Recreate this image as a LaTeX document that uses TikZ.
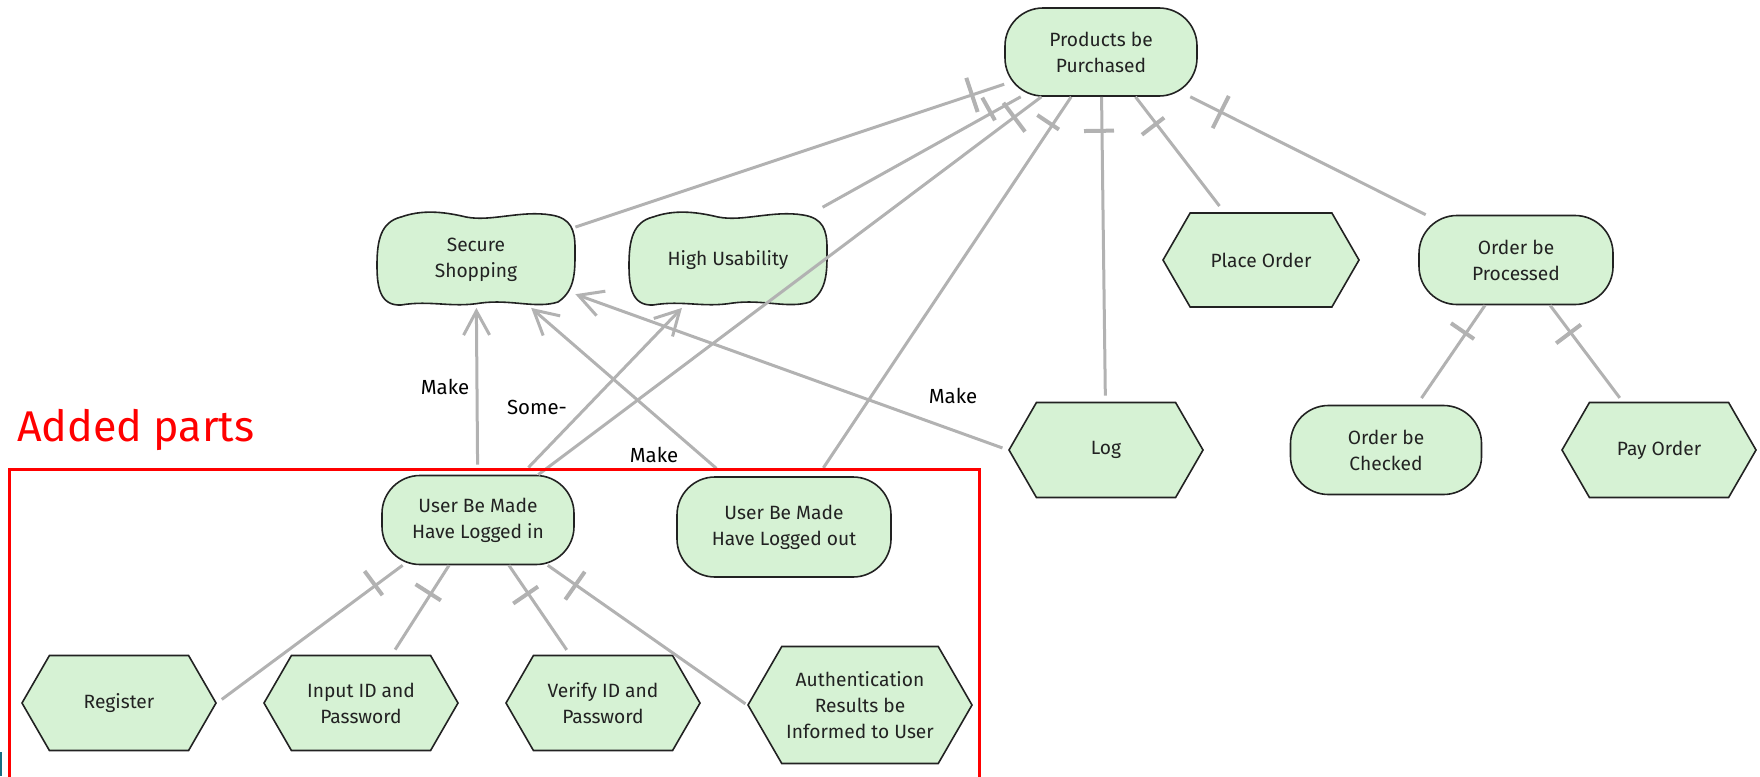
\documentclass[tikz,border=0pt]{standalone}
\usepackage{fontspec}
\setmainfont{Fira Sans}
\usetikzlibrary{shapes.symbols,arrows.meta,decorations.markings,backgrounds}

\definecolor{goalfill}{RGB}{214,242,212}
\definecolor{linkgray}{RGB}{178,178,178}
\definecolor{outline}{RGB}{34,34,34}
\definecolor{framered}{RGB}{255,0,0}
\definecolor{edgeteal}{RGB}{20,110,130}

% wavy outline of a softgoal, centred on a node
\newcommand\softoutline[1]{%
  \draw[draw=outline, line width=0.8pt, fill=goalfill, shift={(#1.center)}]
    (-75,-43) .. controls (-55,-50) and (-35,-49) .. (-10,-43)
    .. controls (15,-38) and (45,-50) .. (75,-45)
    .. controls (95,-42) and (99,-30) .. (99,-12)
    .. controls (99,10) and (100,30) .. (82,42)
    .. controls (60,49) and (35,39) .. (5,43)
    .. controls (-25,48) and (-45,40) .. (-75,45)
    .. controls (-97,46) and (-99,25) .. (-99,5)
    .. controls (-99,-20) and (-95,-38) .. (-75,-43) -- cycle;}

\begin{document}
\begin{tikzpicture}[x=0.5pt,y=-0.5pt,
  every node/.style={font=\fontsize{9.6}{13}\selectfont, text=outline, align=center},
  goal/.style n args={2}{rectangle, draw=outline, line width=0.8pt, fill=goalfill,
    rounded corners=19pt, inner sep=0pt, minimum width=#1, minimum height=#2},
  task/.style n args={2}{signal, signal to=west and east, signal pointer angle=120,
    draw=outline, line width=0.8pt, fill=goalfill, inner sep=0pt,
    minimum width=#1, minimum height=#2},
  soft/.style n args={2}{rectangle, inner sep=0pt, minimum width=#1, minimum height=#2},
  link/.style={draw=linkgray, line width=1.5pt},
  decomp/.style={link, postaction={decorate, decoration={markings,
    mark=at position 17pt with {\draw[linkgray, line width=2pt] (0pt,-9pt) -- (0pt,9pt);}}}},
  contrib/.style={link, -{Straight Barb[length=12pt, width=13pt, line width=1.5pt]}},
  lbl/.style={font=\fontsize{10.2}{12}\selectfont, text=black}]

\useasboundingbox (0,0) rectangle (1760,776);

% goals
\node[goal={96pt}{44pt}] (pbp) at (1101,52) {Products be\\Purchased};
\node[goal={97pt}{44.5pt}] (op) at (1516,260) {Order be\\Processed};
\node[goal={95.5pt}{44.5pt}] (oc) at (1386,450) {Order be\\Checked};
\node[goal={96pt}{44.5pt}] (login) at (478,520) {User Be Made\\Have Logged in};
\node[goal={107pt}{50pt}] (logout) at (784,527) {User Be Made\\Have Logged out};

% softgoals
\node[soft={99pt}{47.5pt}] (ss) at (476,260) {Secure\\Shopping};
\node[soft={99pt}{47.5pt}] (hu) at (728,260) {High Usability};
\begin{scope}[on background layer]
  \softoutline{ss}
  \softoutline{hu}
\end{scope}

% tasks
\node[task={98pt}{47pt}] (place) at (1261,260) {Place Order};
\node[task={97pt}{47.5pt}] (log) at (1106,450) {Log};
\node[task={97pt}{47.5pt}] (pay) at (1659,450) {Pay Order};
\node[task={97pt}{47.5pt}] (reg) at (119,703) {Register};
\node[task={97pt}{47.5pt}] (input) at (361,703) {Input ID and\\Password};
\node[task={97pt}{47.5pt}] (verify) at (603,703) {Verify ID and\\Password};
\node[task={112pt}{58.5pt}] (auth) at (860,705) {Authentication\\Results be\\Informed to User};

% decompositions
\draw[decomp] (pbp) -- (ss);
\draw[decomp, shorten >=5pt] (pbp) -- (hu);
\draw[decomp] (pbp) -- (login);
\draw[decomp, shorten >=5pt] (pbp) -- (logout);
\draw[decomp, shorten >=3pt] (pbp) -- (log);
\draw[decomp, shorten >=4pt] (pbp) -- (place);
\draw[decomp] (pbp) -- (op);
\draw[decomp, shorten >=4pt] (op) -- (oc);
\draw[decomp, shorten >=2.5pt] (op) -- (pay);
\draw[decomp, shorten >=3pt] (login.211) -- (reg.east);
\draw[decomp, shorten >=3pt] (login) -- (input);
\draw[decomp, shorten >=3pt] (login) -- (verify);
\draw[decomp, shorten >=1pt] (login.327) -- (auth.west);

% contributions
\draw[contrib, shorten <=5pt] (login) -- (ss);
\draw[contrib, shorten <=5pt] (login) -- (hu);
\draw[contrib, shorten <=6pt] (logout) -- (ss);
\draw[contrib, shorten <=3pt] (log.west) -- (ss.341);

% contribution labels
\node[lbl] (mk1) at (445,387) {Make};
\node[lbl] (sm) at (537,407) {Some-};
\node[lbl] (mk2) at (654,455) {Make};
\node[lbl] (mk3) at (953,396) {Make};

% added region
\draw[framered, line width=1.5pt] (9,800) -- (9,469) -- (979,469) -- (979,800);
\node[text=framered, font=\fontsize{21.5}{24}\selectfont, anchor=west] (added) at (10,430) {Added parts};
\fill[edgeteal] (0,752) rectangle (2,776);
\end{tikzpicture}
\end{document}
